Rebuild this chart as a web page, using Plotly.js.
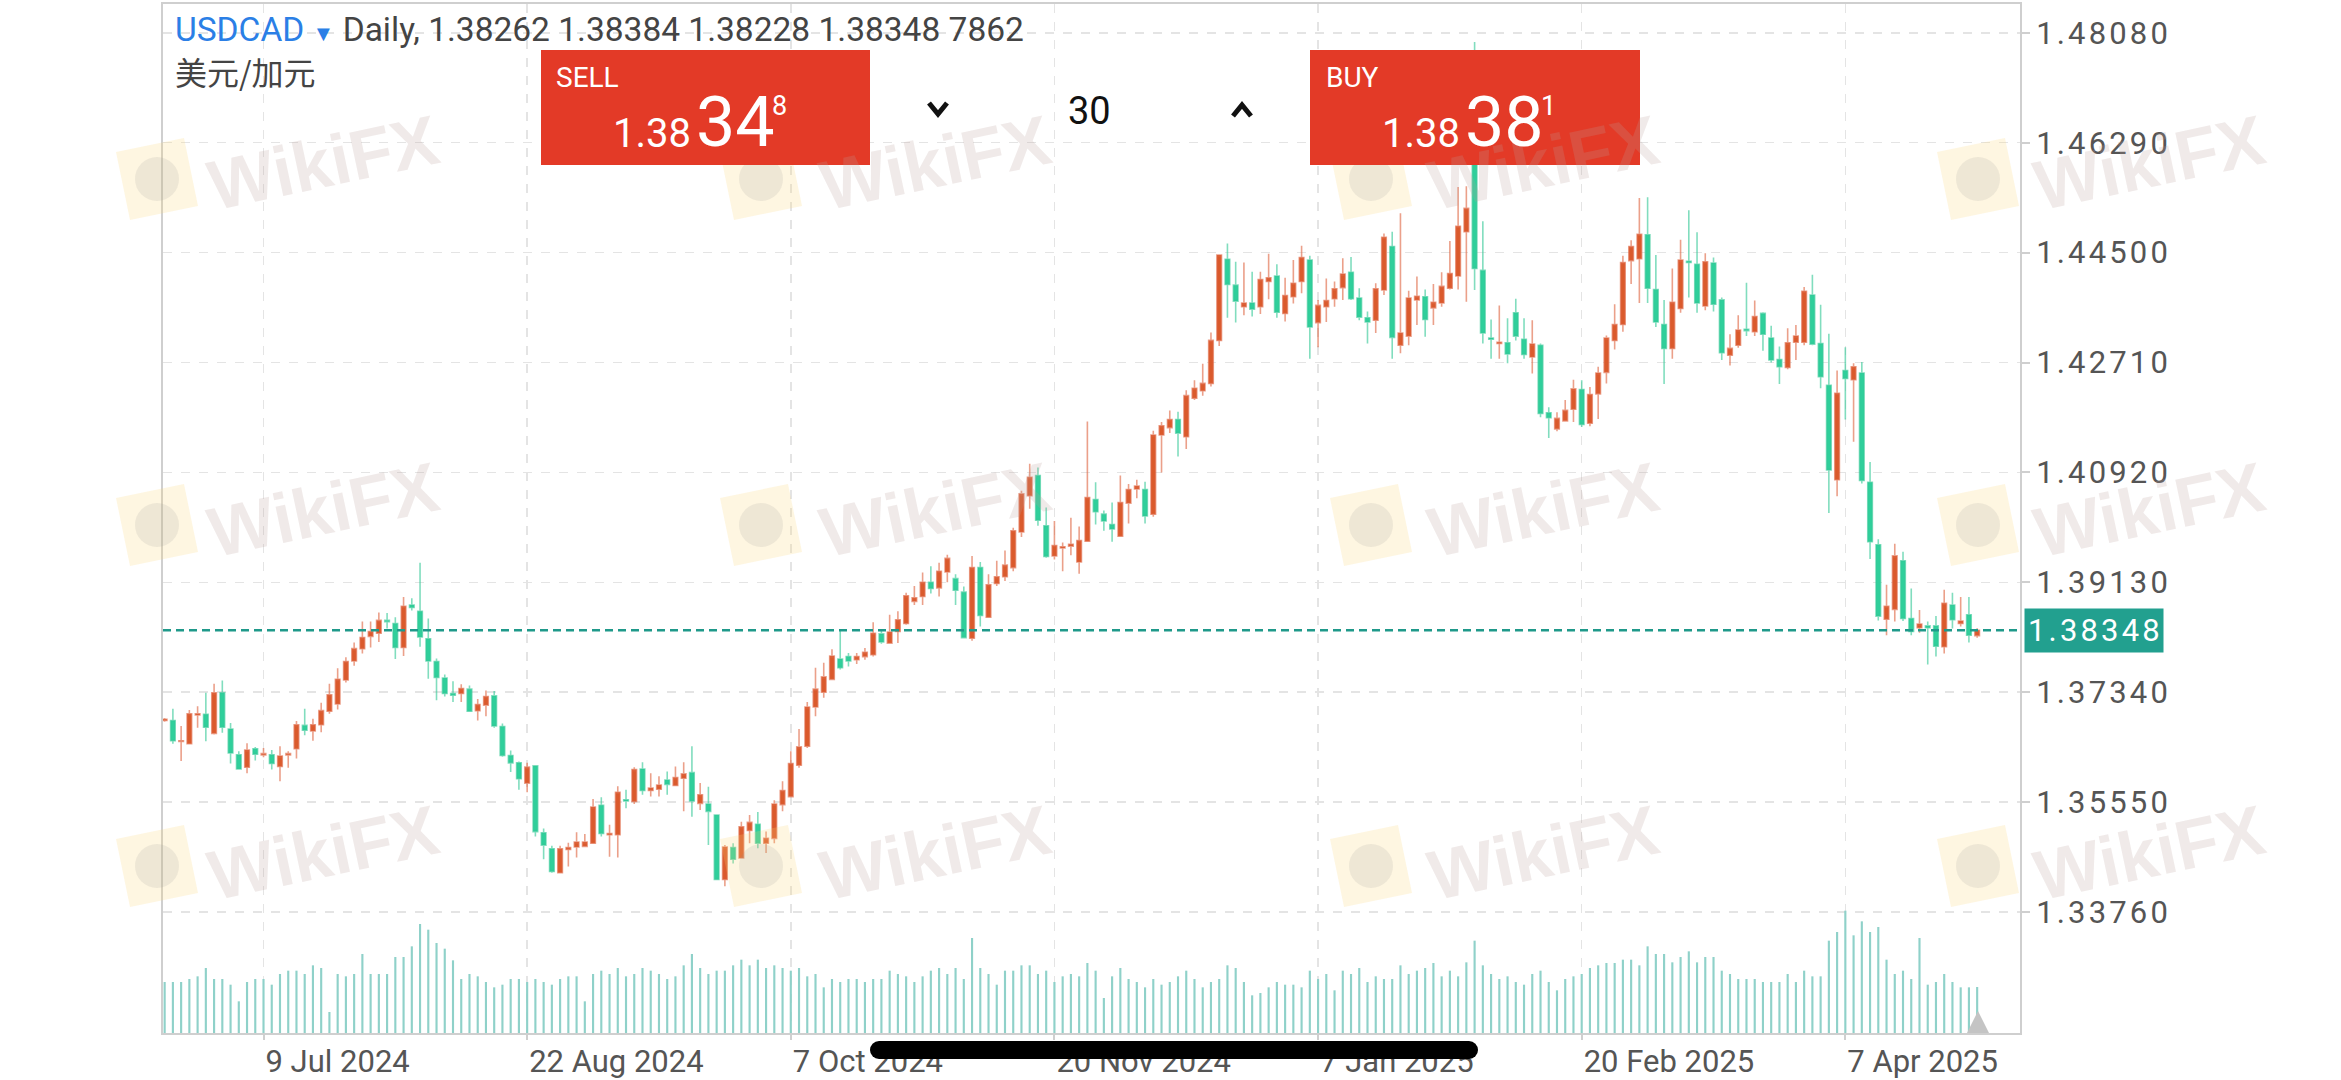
<!DOCTYPE html>
<html><head><meta charset="utf-8">
<script src="https://cdn.plot.ly/plotly-3.0.1.min.js"></script>
<style>html,body{margin:0;padding:0;background:#fff;overflow:hidden}#chart{width:2341px;height:1080px}</style>
</head><body><div id="chart"></div>
<script>
// ---------------- DATA ----------------
const firstDate = '2024-06-21';
const holidays = ['2024-12-25', '2025-01-01'];

const open = [1.3688,1.3688,1.3654,1.3650,1.3697,1.3698,1.3667,1.3733,1.3674,1.3632,1.3612,1.3642,1.3632,1.3632,1.3613,1.3632,1.3642,1.3680,1.3671,1.3681,
1.3703,1.3715,1.3754,1.3785,1.3805,1.3825,1.3830,1.3851,1.3846,1.3807,1.3876,1.3866,1.3821,1.3784,1.3757,1.3732,1.3732,1.3739,1.3704,1.3713,
1.3728,1.3678,1.3631,1.3619,1.3586,1.3614,1.3505,1.3479,1.3440,1.3478,1.3482,1.3483,1.3488,1.3550,1.3502,1.3502,1.3559,1.3556,1.3609,1.3574,
1.3576,1.3591,1.3582,1.3594,1.3603,1.3553,1.3552,1.3534,1.3429,1.3481,1.3464,1.3509,1.3519,1.3488,1.3496,1.3551,1.3564,1.3615,1.3646,1.3710,
1.3734,1.3755,1.3788,1.3792,1.3787,1.3792,1.3795,1.3829,1.3814,1.3833,1.3846,1.3882,1.3890,1.3913,1.3904,1.3930,1.3919,1.3897,1.3822,1.3937,
1.3856,1.3911,1.3922,1.3937,1.3995,1.4054,1.4087,1.4005,1.3956,1.3969,1.3972,1.3946,1.3980,1.4048,1.4024,1.4007,1.3988,1.4042,1.4065,1.4064,
1.4024,1.4153,1.4165,1.4178,1.4150,1.4213,1.4225,1.4237,1.4307,1.4439,1.4397,1.4362,1.4368,1.4362,1.4403,1.4412,1.4351,1.4378,1.4403,1.4438,
1.4336,1.4362,1.4375,1.4393,1.4418,1.4376,1.4344,1.4340,1.4389,1.4460,1.4299,1.4314,1.4373,1.4378,1.4360,1.4368,1.4392,1.4412,1.4484,1.4700,
1.4421,1.4311,1.4302,1.4303,1.4352,1.4309,1.4280,1.4299,1.4189,1.4163,1.4176,1.4195,1.4227,1.4172,1.4220,1.4255,1.4307,1.4333,1.4437,1.4440,
1.4479,1.4390,1.4333,1.4294,1.4359,1.4436,1.4431,1.4363,1.4433,1.4373,1.4283,1.4299,1.4325,1.4321,1.4351,1.4311,1.4276,1.4263,1.4304,1.4304,
1.4381,1.4302,1.4234,1.4080,1.4258,1.4243,1.4254,1.4076,1.3974,1.3853,1.3869,1.3948,1.3854,1.3839,1.3842,1.3842,1.3808,1.3876,1.3846,1.3860,
1.38262];
const high = [1.3692,1.3707,1.3679,1.3705,1.3711,1.3733,1.3748,1.3753,1.3684,1.3638,1.3651,1.3645,1.3643,1.3640,1.3646,1.3638,1.3687,1.3707,1.3691,1.3717,
1.3748,1.3773,1.3791,1.3815,1.3849,1.3849,1.3864,1.3863,1.3856,1.3889,1.3887,1.3945,1.3854,1.3789,1.3763,1.3752,1.3747,1.3745,1.3723,1.3737,
1.3736,1.3683,1.3639,1.3621,1.3619,1.3614,1.3512,1.3484,1.3484,1.3489,1.3506,1.3503,1.3560,1.3563,1.3518,1.3581,1.3575,1.3612,1.3620,1.3602,
1.3597,1.3605,1.3613,1.3620,1.3646,1.3586,1.3580,1.3534,1.3485,1.3488,1.3523,1.3534,1.3539,1.3507,1.3558,1.3589,1.3638,1.3674,1.3718,1.3774,
1.3782,1.3804,1.3837,1.3798,1.3798,1.3806,1.3848,1.3836,1.3860,1.3866,1.3896,1.3907,1.3929,1.3939,1.3945,1.3958,1.3926,1.3906,1.3956,1.3946,
1.3926,1.3948,1.3965,1.4002,1.4062,1.4106,1.4100,1.4035,1.4013,1.3978,1.4018,1.4004,1.4175,1.4076,1.4030,1.4043,1.4087,1.4073,1.4080,1.4077,
1.4160,1.4174,1.4193,1.4191,1.4226,1.4242,1.4269,1.4320,1.4447,1.4465,1.4435,1.4434,1.4419,1.4419,1.4448,1.4431,1.4409,1.4438,1.4461,1.4445,
1.4373,1.4408,1.4403,1.4441,1.4443,1.4392,1.4354,1.4400,1.4481,1.4484,1.4514,1.4388,1.4411,1.4390,1.4399,1.4418,1.4469,1.4557,1.4558,1.4793,
1.4501,1.4341,1.4364,1.4343,1.4375,1.4343,1.4340,1.4302,1.4198,1.4190,1.4210,1.4243,1.4242,1.4231,1.4264,1.4315,1.4366,1.4445,1.4470,1.4539,
1.4540,1.4446,1.4373,1.4424,1.4471,1.4519,1.4483,1.4449,1.4442,1.4377,1.4317,1.4348,1.4401,1.4372,1.4353,1.4331,1.4297,1.4327,1.4332,1.4394,
1.4414,1.4365,1.4318,1.4258,1.4296,1.4270,1.4272,1.4109,1.3983,1.3909,1.3976,1.3963,1.3903,1.3868,1.3849,1.3858,1.3901,1.3896,1.3889,1.3889,
1.38384];
const low = [1.3686,1.3650,1.3622,1.3649,1.3676,1.3654,1.3665,1.3668,1.3618,1.3608,1.3602,1.3623,1.3628,1.3608,1.3589,1.3611,1.3626,1.3664,1.3655,1.3669,
1.3699,1.3706,1.3750,1.3777,1.3797,1.3807,1.3816,1.3838,1.3788,1.3793,1.3867,1.3808,1.3756,1.3721,1.3727,1.3718,1.3718,1.3702,1.3688,1.3695,
1.3676,1.3629,1.3604,1.3575,1.3571,1.3499,1.3462,1.3440,1.3439,1.3450,1.3465,1.3482,1.3487,1.3499,1.3466,1.3465,1.3545,1.3552,1.3567,1.3564,
1.3564,1.3567,1.3581,1.3540,1.3531,1.3542,1.3485,1.3428,1.3418,1.3455,1.3463,1.3488,1.3480,1.3472,1.3488,1.3540,1.3563,1.3611,1.3643,1.3695,
1.3725,1.3754,1.3771,1.3776,1.3780,1.3787,1.3792,1.3813,1.3813,1.3814,1.3844,1.3876,1.3876,1.3895,1.3890,1.3913,1.3876,1.3822,1.3818,1.3841,
1.3855,1.3907,1.3915,1.3931,1.3987,1.4033,1.4005,1.3953,1.3950,1.3931,1.3957,1.3927,1.3979,1.4007,1.3997,1.3979,1.3987,1.4009,1.4050,1.4009,
1.4020,1.4092,1.4156,1.4118,1.4130,1.4210,1.4217,1.4232,1.4298,1.4344,1.4336,1.4348,1.4346,1.4350,1.4374,1.4344,1.4338,1.4367,1.4384,1.4277,
1.4296,1.4337,1.4362,1.4373,1.4373,1.4340,1.4302,1.4319,1.4381,1.4277,1.4286,1.4299,1.4332,1.4313,1.4332,1.4362,1.4390,1.4390,1.4370,1.4389,
1.4302,1.4277,1.4277,1.4270,1.4307,1.4277,1.4253,1.4182,1.4148,1.4159,1.4175,1.4174,1.4166,1.4167,1.4179,1.4237,1.4292,1.4321,1.4399,1.4368,
1.4368,1.4329,1.4236,1.4277,1.4352,1.4377,1.4352,1.4356,1.4354,1.4275,1.4266,1.4295,1.4314,1.4314,1.4290,1.4271,1.4236,1.4260,1.4275,1.4299,
1.4299,1.4229,1.4026,1.4053,1.4178,1.4142,1.4074,1.3951,1.3851,1.3827,1.3849,1.3850,1.3827,1.3831,1.3779,1.3792,1.3797,1.3838,1.3841,1.3815,
1.38228];
const close = [1.3690,1.3655,1.3655,1.3699,1.3699,1.3677,1.3733,1.3677,1.3635,1.3609,1.3640,1.3633,1.3634,1.3618,1.3630,1.3634,1.3681,1.3672,1.3681,1.3704,
1.3730,1.3755,1.3784,1.3805,1.3823,1.3833,1.3851,1.3849,1.3807,1.3874,1.3872,1.3824,1.3785,1.3758,1.3732,1.3729,1.3740,1.3703,1.3714,1.3727,
1.3679,1.3631,1.3619,1.3593,1.3612,1.3507,1.3485,1.3442,1.3479,1.3481,1.3490,1.3490,1.3547,1.3504,1.3504,1.3571,1.3557,1.3608,1.3574,1.3578,
1.3583,1.3584,1.3595,1.3601,1.3557,1.3567,1.3540,1.3429,1.3482,1.3462,1.3515,1.3522,1.3488,1.3496,1.3552,1.3574,1.3618,1.3645,1.3710,1.3739,
1.3759,1.3793,1.3774,1.3785,1.3792,1.3799,1.3830,1.3816,1.3832,1.3852,1.3891,1.3888,1.3913,1.3903,1.3931,1.3952,1.3900,1.3823,1.3937,1.3859,
1.3909,1.3922,1.3941,1.3997,1.4057,1.4084,1.4014,1.3955,1.3973,1.3971,1.3975,1.3981,1.4051,1.4028,1.4013,1.4000,1.4043,1.4064,1.4070,1.4021,
1.4153,1.4168,1.4178,1.4156,1.4217,1.4229,1.4237,1.4307,1.4446,1.4398,1.4371,1.4368,1.4358,1.4406,1.4409,1.4353,1.4380,1.4400,1.4442,1.4329,
1.4364,1.4372,1.4391,1.4415,1.4375,1.4345,1.4337,1.4391,1.4475,1.4312,1.4319,1.4376,1.4379,1.4341,1.4369,1.4395,1.4416,1.4493,1.4522,1.4424,
1.4319,1.4309,1.4304,1.4285,1.4314,1.4284,1.4301,1.4188,1.4181,1.4180,1.4193,1.4228,1.4170,1.4219,1.4254,1.4311,1.4333,1.4434,1.4460,1.4480,
1.4392,1.4337,1.4294,1.4369,1.4438,1.4434,1.4368,1.4435,1.4366,1.4287,1.4294,1.4324,1.4323,1.4346,1.4317,1.4275,1.4264,1.4303,1.4314,1.4387,
1.4301,1.4248,1.4096,1.4221,1.4245,1.4264,1.4079,1.3979,1.3858,1.3874,1.3956,1.3854,1.3833,1.3845,1.3839,1.3809,1.3879,1.3852,1.3850,1.3827,
1.38348];
const volume = [153,
153,153,162,170,195,162,162,145,95,153,162,162,145,177,187,187,177,203,195,63,
177,170,177,237,177,177,177,228,228,260,327,310,270,253,218,162,177,170,153,137,
145,162,162,153,162,153,145,162,170,170,95,177,187,177,195,170,177,195,187,177,
162,170,203,237,195,177,187,187,203,220,203,220,195,203,195,187,195,170,177,137,
162,153,162,162,153,162,162,187,177,170,153,170,187,195,177,195,162,285,195,177,
145,187,187,203,203,177,187,153,170,177,170,210,
187,105,170,195,162,153,137,162,145,153,170,187,162,137,153,162,203,195,153,113,
120,137,153,145,145,137,187,162,177,128,187,177,195,153,170,162,162,203,177,187,
195,210,170,187,170,212,277,203,177,162,170,153,145,177,187,153,128,162,170,177,
195,203,210,210,220,220,203,260,237,237,212,228,245,212,228,228,187,177,162,162,
162,153,153,153,177,153,187,170,170,277,303,367,293,335,303,318,220,177,187,162,
285,145,153,177,153,137,137,
138];

const tickDates = ['2024-07-09','2024-08-22','2024-10-07','2024-11-20','2025-01-07','2025-02-20','2025-04-07'];
const tickLabels = ['9 Jul 2024','22 Aug 2024','7 Oct 2024','20 Nov 2024','7 Jan 2025','20 Feb 2025','7 Apr 2025'];
const priceTicks = [1.33760,1.35550,1.37340,1.39130,1.40920,1.42710,1.44500,1.46290,1.48080];
const lastPrice = 1.38348;
const symbol = 'USDCAD';
const pairName = '美元/加元';
const headerValues = ['1.38262','1.38384','1.38228','1.38348','7862'];
const sellParts = ['1.38','34','8'];
const buyParts = ['1.38','38','1'];
const spread = '30';

// ---------------- BUILD ----------------
const dates = [];
(function(){
  const d = new Date(firstDate + 'T00:00:00Z');
  while (dates.length < open.length) {
    const s = d.toISOString().slice(0,10);
    const wd = d.getUTCDay();
    if (wd !== 0 && wd !== 6 && holidays.indexOf(s) < 0) dates.push(s);
    d.setUTCDate(d.getUTCDate() + 1);
  }
})();

const spaced = s => s.split('').join('\u200A');

const L = 163, R = 2020, T = 4, B = 1033;
const PX = x => (x - L) / (R - L);
const PY = y => (B - y) / (B - T);

const UP = '#da5a2c', DOWN = '#2fcf9b';

const traces = [
  {type:'bar', x:dates, y:volume, yaxis:'y2', width:0.26,
   marker:{color:'#8fd1c9', line:{width:0}}, hoverinfo:'skip'},
  {type:'candlestick', x:dates, open:open, high:high, low:low, close:close,
   increasing:{line:{color:'rgba(222,102,66,0.62)', width:1.6}, fillcolor:UP},
   decreasing:{line:{color:'rgba(52,200,150,0.62)', width:1.6}, fillcolor:DOWN},
   whiskerwidth:0, hoverinfo:'skip'}
];

const shapes = [];
const annotations = [];

// watermarks
const wmCols = [[157,323],[761,935],[1371,1543],[1978,2149]];
const wmRows = [[179,163],[525,510],[866,853]];
wmRows.forEach(r => wmCols.forEach(c => {
  shapes.push({type:'path', xref:'paper', yref:'paper', xsizemode:'pixel', ysizemode:'pixel',
    xanchor:PX(c[0]), yanchor:PY(r[0]), layer:'above',
    path:'M 27,41 L -41,27 L -27,-41 L 41,-27 Z',
    fillcolor:'rgba(252,212,120,0.22)', line:{width:0}});
  shapes.push({type:'circle', xref:'paper', yref:'paper', xsizemode:'pixel', ysizemode:'pixel',
    xanchor:PX(c[0]), yanchor:PY(r[0]), x0:-22, x1:22, y0:-22, y1:22, layer:'above',
    fillcolor:'rgba(150,150,150,0.15)', line:{width:0}});
  annotations.push({xref:'paper', yref:'paper', x:PX(c[1]), y:PY(r[1]), xanchor:'center', yanchor:'middle',
    text:'WikiFX', showarrow:false, textangle:-12,
    font:{family:'Liberation Sans, Arial', size:70, weight:'bold', color:'rgba(185,160,155,0.22)'}});
}));

// last price line
shapes.push({type:'line', xref:'paper', x0:0, x1:1, yref:'y', y0:lastPrice, y1:lastPrice,
  line:{color:'#1f998a', width:2.5, dash:'8px,5px'}, layer:'above'});

// SELL / BUY boxes
shapes.push({type:'rect', xref:'paper', yref:'paper', x0:PX(541), x1:PX(870), y0:PY(165), y1:PY(50),
  fillcolor:'#e33a27', line:{width:0}, layer:'above'});
shapes.push({type:'rect', xref:'paper', yref:'paper', x0:PX(1310), x1:PX(1640), y0:PY(165), y1:PY(50),
  fillcolor:'#e33a27', line:{width:0}, layer:'above'});
// chevrons
shapes.push({type:'path', xref:'paper', yref:'paper', layer:'above',
  path:`M ${PX(929)},${PY(103)} L ${PX(938)},${PY(114)} L ${PX(947)},${PY(103)}`, line:{color:'#111', width:5}});
shapes.push({type:'path', xref:'paper', yref:'paper', layer:'above',
  path:`M ${PX(1233)},${PY(116)} L ${PX(1242)},${PY(105)} L ${PX(1251)},${PY(116)}`, line:{color:'#111', width:5}});

// grey marker triangle
shapes.push({type:'path', xref:'paper', yref:'paper', layer:'above',
  path:`M ${PX(1967)},${PY(1033)} L ${PX(1978)},${PY(1011)} L ${PX(1989)},${PY(1033)} Z`,
  fillcolor:'#c4c4c4', line:{width:0}});

// black bar over the date labels
shapes.push({type:'rect', xref:'paper', yref:'paper', x0:PX(879), x1:PX(1469), y0:PY(1059), y1:PY(1041),
  fillcolor:'#000', line:{width:0}, layer:'above'});
shapes.push({type:'circle', xref:'paper', yref:'paper', x0:PX(870), x1:PX(888), y0:PY(1059), y1:PY(1041),
  fillcolor:'#000', line:{width:0}, layer:'above'});
shapes.push({type:'circle', xref:'paper', yref:'paper', x0:PX(1460), x1:PX(1478), y0:PY(1059), y1:PY(1041),
  fillcolor:'#000', line:{width:0}, layer:'above'});

// header
annotations.push({xref:'paper', yref:'paper', x:PX(173), y:PY(30), xanchor:'left', yanchor:'middle', showarrow:false,
  text:`<span style="color:#2b7fe6">${symbol}</span> <span style="color:#2b7fe6;font-size:22px">▼</span> Daily, ${headerValues.join(' ')}`,
  font:{family:'Roboto, sans-serif', size:33.5, color:'#444'}});
annotations.push({xref:'paper', yref:'paper', x:PX(173), y:PY(71), xanchor:'left', yanchor:'middle', showarrow:false,
  text:pairName, font:{family:'Noto Sans CJK SC, sans-serif', size:32, color:'#444'}});

// SELL texts
const boxText = (x, y, t, size, anchor) => annotations.push({xref:'paper', yref:'paper', x:PX(x), y:PY(y),
  xanchor:anchor, yanchor:'middle', showarrow:false, text:t, borderpad:0,
  font:{family:'Roboto, sans-serif', size:size, color:'#fff'}});
boxText(555, 78, 'SELL', 28, 'left');
boxText(692, 133, sellParts[0], 40, 'right');
boxText(695, 122, sellParts[1], 70, 'left');
boxText(771, 106, sellParts[2], 27, 'left');
boxText(1325, 78, 'BUY', 28, 'left');
boxText(1461, 133, buyParts[0], 40, 'right');
boxText(1464, 122, buyParts[1], 70, 'left');
boxText(1540, 106, buyParts[2], 27, 'left');
annotations.push({xref:'paper', yref:'paper', x:PX(1089), y:PY(111), xanchor:'center', yanchor:'middle', showarrow:false,
  text:spread, font:{family:'Roboto, sans-serif', size:38, color:'#111'}});

// last price label
annotations.push({xref:'paper', yref:'y', x:1, xshift:4, y:lastPrice, xanchor:'left', yanchor:'middle', showarrow:false,
  text:spaced(lastPrice.toFixed(5)), bgcolor:'#22a08f', borderpad:3,
  font:{family:'Roboto, sans-serif', size:31, color:'#fff'}});

const layout = {
  width:2341, height:1080, margin:{l:L, r:2341-R, t:T, b:1080-B},
  paper_bgcolor:'#fff', plot_bgcolor:'#fff', showlegend:false,
  font:{family:'Roboto, sans-serif'},
  boxgap:0.2, boxgroupgap:0.3,
  xaxis:{type:'category', range:[-0.2, 225.2], rangeslider:{visible:false},
    tickmode:'array', tickvals:tickDates, ticktext:tickLabels, ticklabelposition:'outside right',
    ticks:'outside', ticklen:5, tickwidth:2, tickcolor:'#cfcfcf',
    tickfont:{family:'Roboto, sans-serif', size:31, color:'#555'},
    showgrid:true, gridcolor:'#e4e4e4', griddash:'dash', gridwidth:1.5,
    showline:true, linecolor:'#cfcfcf', linewidth:2, mirror:true, zeroline:false, fixedrange:true},
  yaxis:{side:'right', range:[1.31790, 1.48549],
    tickmode:'array', tickvals:priceTicks, ticktext:priceTicks.map(v => spaced(v.toFixed(5))),
    ticks:'outside', ticklen:8, tickwidth:2, tickcolor:'#cfcfcf',
    tickfont:{family:'Roboto, sans-serif', size:31, color:'#555'},
    showgrid:true, gridcolor:'#e4e4e4', griddash:'dash', gridwidth:1.5,
    showline:true, linecolor:'#cfcfcf', linewidth:2, mirror:true, zeroline:false, fixedrange:true},
  yaxis2:{overlaying:'y', range:[0, 3087], visible:false, fixedrange:true},
  shapes:shapes, annotations:annotations
};

Plotly.newPlot('chart', traces, layout, {displayModeBar:false, staticPlot:true});
</script></body></html>
